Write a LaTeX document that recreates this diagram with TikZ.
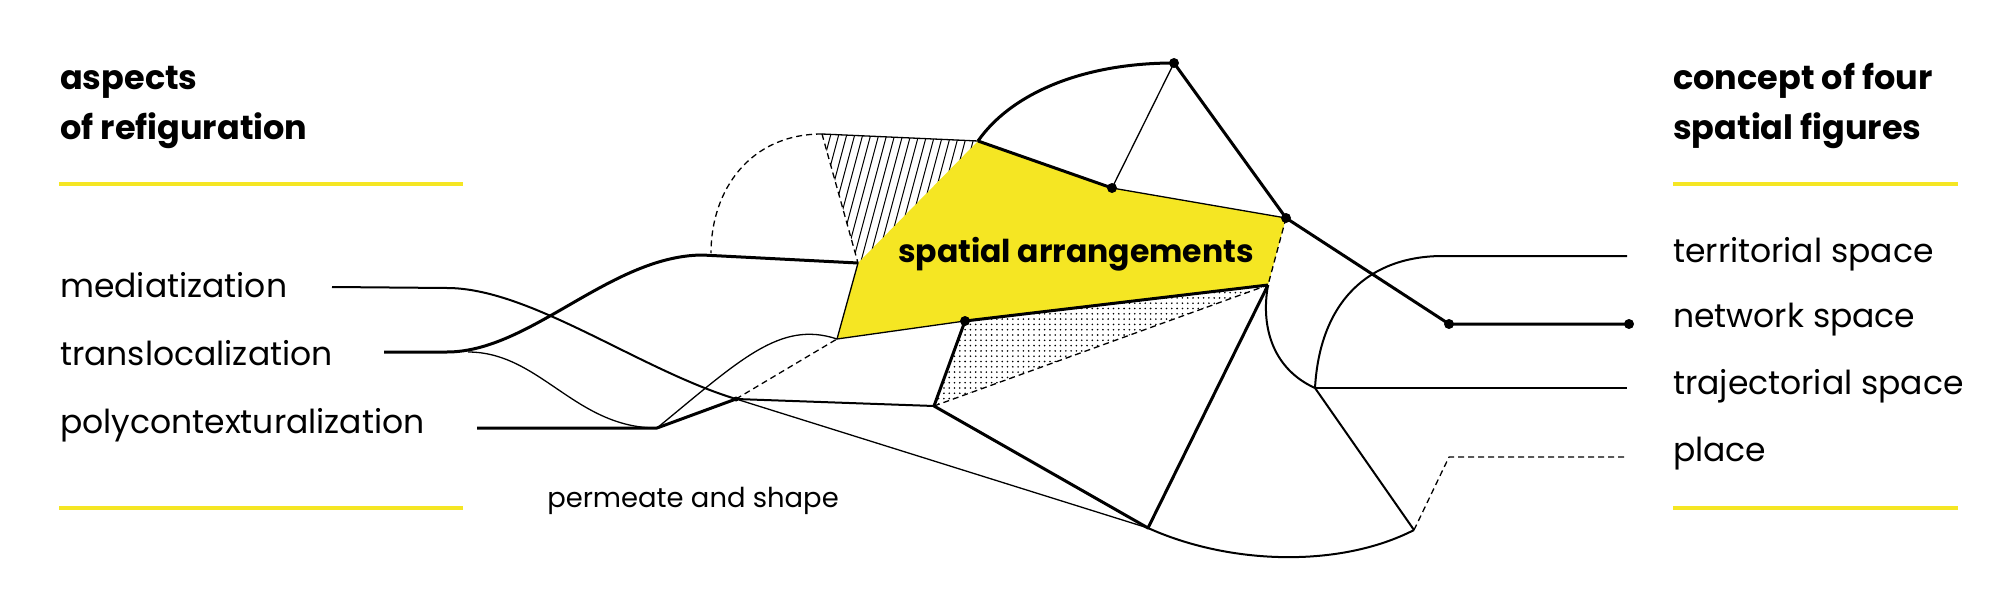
\documentclass[tikz,border=0pt]{standalone}
\usepackage{fontspec}
\setmainfont{Poppins}
\usetikzlibrary{positioning}
\definecolor{accentYellow}{RGB}{245,230,35}
\tikzstyle{canvas} = [x = 1pt, y = -1pt, line join = round]
\tikzstyle{thickLine} = [line width = 3pt]
\tikzstyle{mediumLine} = [line width = 2pt]
\tikzstyle{thinLine} = [line width = 1.3pt]
\tikzstyle{dashLine} = [line width = 1.3pt, dash pattern = on 6pt off 4pt]
\tikzstyle{accentBar} = [color = accentYellow, line width = 4pt]
\tikzstyle{headingText} = [font = \fontsize{33.5}{40}\selectfont\bfseries, anchor = base west, inner sep = 0]
\tikzstyle{itemText} = [font = \fontsize{33}{40}\selectfont, anchor = base west, inner sep = 0]
\tikzstyle{centerText} = [font = \fontsize{31.5}{38}\selectfont\bfseries, anchor = base, inner sep = 0]
\tikzstyle{noteText} = [font = \fontsize{27.4}{33}\selectfont, anchor = base, inner sep = 0]
\newcommand{\nodeDot}[1]{\fill (#1) circle (5pt);}
\newcommand{\accentBars}[2]{
  \draw [accentBar] (#1, 184) -- (#2, 184);
  \draw [accentBar] (#1, 508) -- (#2, 508);
}

\begin{document}
\begin{tikzpicture}[canvas]
  \useasboundingbox (0,0) rectangle (2008,615);

  % points of the figure
  \coordinate (topNode) at (1174,63);
  \coordinate (midNode) at (1112,188);
  \coordinate (rightNode) at (1286,218);
  \coordinate (lowRight) at (1268,285);
  \coordinate (lowNode) at (965,321);
  \coordinate (lowLeft) at (837,339);
  \coordinate (leftNode) at (858,263);
  \coordinate (arcStart) at (978,141);
  \coordinate (hatchCorner) at (822,134);
  \coordinate (arcFoot) at (711,253);
  \coordinate (shoulder) at (702,255);
  \coordinate (crossNode) at (736,399);
  \coordinate (kneeNode) at (934,406);
  \coordinate (baseNode) at (1148,528);
  \coordinate (forkNode) at (1315,388);
  \coordinate (footNode) at (1414,530);
  \coordinate (placeBend) at (1449,457);
  \coordinate (netLeft) at (1449,324);
  \coordinate (terrBend) at (1443,256);
  \coordinate (mediaStart) at (332,287);
  \coordinate (mediaBend) at (447,288);
  \coordinate (transStart) at (384,352);
  \coordinate (transBend) at (447,352);
  \coordinate (branchStart) at (468,352);
  \coordinate (polyStart) at (477,428);
  \coordinate (polyBend) at (657,428);
  \coordinate (terrEnd) at (1627,256);
  \coordinate (netRight) at (1629,324);
  \coordinate (trajEnd) at (1627,388);
  \coordinate (placeEnd) at (1627,457);

  % fills
  \fill [accentYellow] (arcStart) -- (midNode) -- (rightNode) -- (lowRight) -- (lowNode) -- (lowLeft) -- (leftNode) -- cycle;
  \begin{scope}
    \clip (hatchCorner) -- (arcStart) -- (leftNode) -- cycle;
    \foreach \hx in {776,784,...,968} {
      \draw [line width = 1pt] (\hx,280) -- ++(40,-150);
    }
  \end{scope}
  \begin{scope}
    \clip (lowNode) -- (lowRight) -- (kneeNode) -- cycle;
    \foreach \dx in {928,933.3,...,1272} {
      \foreach \dy in {282,287.3,...,410} {
        \fill (\dx,\dy) circle (0.9pt);
      }
    }
  \end{scope}

  % lines
  \draw [thickLine] (arcStart) .. controls (1010,95) and (1080,63) .. (topNode);
  \draw [thickLine] (arcStart) -- (midNode);
  \draw [thinLine] (topNode) -- (midNode);
  \draw [thickLine] (topNode) -- (rightNode) -- (netLeft) -- (netRight);
  \draw [thinLine] (midNode) -- (rightNode);
  \draw [dashLine] (rightNode) -- (lowRight);
  \draw [thickLine] (lowRight) -- (lowNode);
  \draw [thinLine] (lowNode) -- (lowLeft) -- (leftNode);
  \draw [thinLine] (hatchCorner) -- (arcStart);
  \draw [dashLine] (hatchCorner) -- (leftNode);
  \draw [dashLine] (hatchCorner) .. controls (750,134) and (711,190) .. (arcFoot);
  \draw [thickLine] (transStart) -- (transBend) .. controls (530,352) and (610,256) .. (shoulder) -- (leftNode);
  \draw [mediumLine] (mediaStart) -- (mediaBend) .. controls (530,288) and (640,370) .. (crossNode);
  \draw [thinLine] (crossNode) -- (baseNode);
  \draw [thickLine] (polyStart) -- (polyBend) -- (crossNode);
  \draw [thinLine] (branchStart) .. controls (540,352) and (575,428) .. (polyBend);
  \draw [thinLine] (polyBend) .. controls (740,360) and (780,320) .. (lowLeft);
  \draw [dashLine] (crossNode) -- (lowLeft);
  \draw [mediumLine] (crossNode) -- (kneeNode);
  \draw [thickLine] (lowNode) -- (kneeNode) -- (baseNode) -- (lowRight);
  \draw [dashLine] (kneeNode) -- (lowRight);
  \draw [mediumLine] (lowRight) .. controls (1260,330) and (1275,370) .. (forkNode);
  \draw [mediumLine] (forkNode) .. controls (1320,300) and (1370,256) .. (terrBend) -- (terrEnd);
  \draw [thinLine] (forkNode) -- (trajEnd);
  \draw [mediumLine] (forkNode) -- (footNode);
  \draw [mediumLine] (baseNode) .. controls (1230,565) and (1340,568) .. (footNode);
  \draw [dashLine] (footNode) -- (placeBend) -- (placeEnd);

  \nodeDot{topNode}
  \nodeDot{midNode}
  \nodeDot{rightNode}
  \nodeDot{lowNode}
  \nodeDot{netLeft}
  \nodeDot{netRight}
  \fill (crossNode) circle (2.5pt);

  % texts
  \accentBars{59}{463}
  \accentBars{1673}{1958}
  \node [headingText] (aspectsTop) at (60,90) {aspects};
  \node [headingText] (aspectsBottom) at (60,140) {of refiguration};
  \node [headingText] (conceptTop) at (1673,90) {concept of four};
  \node [headingText] (conceptBottom) at (1673,140) {spatial figures};
  \node [itemText] (mediatization) at (60,297) {mediatization};
  \node [itemText] (translocalization) at (60,365) {translocalization};
  \node [itemText] (polycontext) at (60,433) {polycontexturalization};
  \node [itemText] (territorial) at (1673,262) {territorial space};
  \node [itemText] (network) at (1673,327) {network space};
  \node [itemText] (trajectorial) at (1673,394) {trajectorial space};
  \node [itemText] (place) at (1673,461) {place};
  \node [centerText] (arrangements) at (1076,262) {spatial arrangements};
  \node [noteText] (permeate) at (693,507) {permeate and shape};
\end{tikzpicture}
\end{document}
